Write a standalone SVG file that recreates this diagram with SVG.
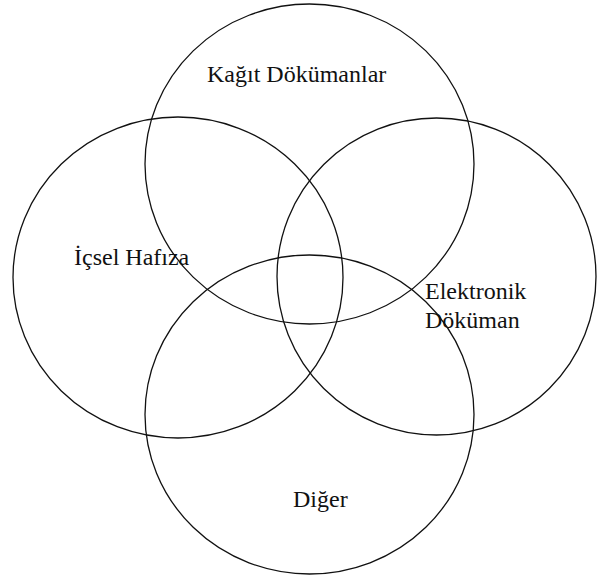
<svg xmlns="http://www.w3.org/2000/svg" width="598" height="576" viewBox="0 0 598 576">
<style>
.c{fill:none;stroke:#111;stroke-width:1.3}
.t{font-family:"Liberation Serif","Times New Roman",serif;font-size:24px;fill:#111}
</style>
<rect width="598" height="576" fill="#fff"/>
<g id="kagit"><ellipse class="c" cx="309.5" cy="164" rx="164.5" ry="160"/><text class="t" x="207" y="82">Kağıt Dökümanlar</text></g>
<g id="icsel"><ellipse class="c" cx="178" cy="277.5" rx="165" ry="160.5"/><text class="t" x="74" y="265">İçsel Hafıza</text></g>
<g id="elektronik"><ellipse class="c" cx="436.5" cy="276.5" rx="159.5" ry="158.5"/><text class="t" x="425" y="299">Elektronik</text><text class="t" x="425" y="328">Döküman</text></g>
<g id="diger"><ellipse class="c" cx="309.5" cy="414.5" rx="164.5" ry="159.5"/><text class="t" x="293" y="507">Diğer</text></g>
<g id="connectors"/>
</svg>
